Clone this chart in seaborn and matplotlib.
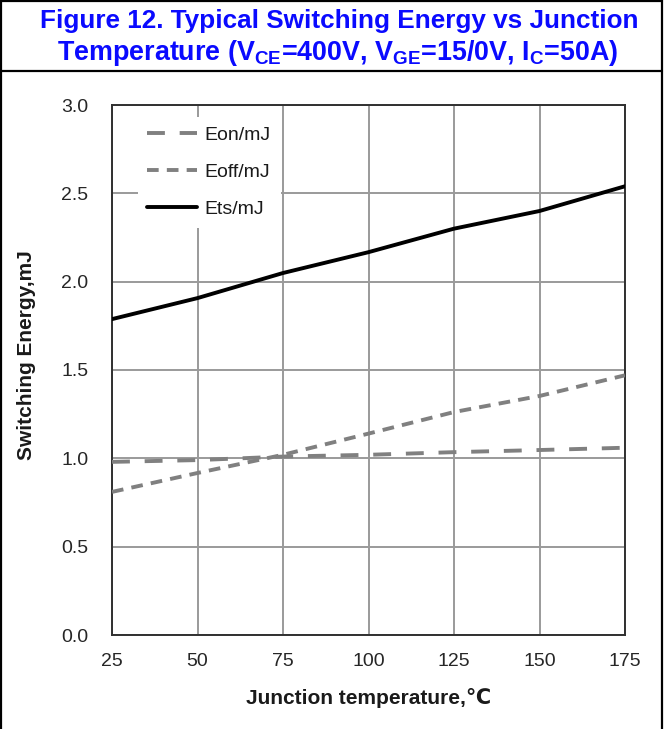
import matplotlib
matplotlib.use("Agg")
import matplotlib.pyplot as plt
from matplotlib.lines import Line2D
import seaborn as sns
import pandas as pd

# Junction temperature (°C) and switching energies (mJ)
temps = [25, 50, 75, 100, 125, 150, 175]
eon = [0.98, 0.99, 1.01, 1.02, 1.035, 1.047, 1.06]
eoff = [0.81, 0.917, 1.02, 1.14, 1.262, 1.353, 1.47]
ets = [1.788, 1.907, 2.049, 2.167, 2.30, 2.40, 2.54]

series_names = ["Eon/mJ", "Eoff/mJ", "Ets/mJ"]
x_ticks = [25, 50, 75, 100, 125, 150, 175]
y_ticks = [0.0, 0.5, 1.0, 1.5, 2.0, 2.5, 3.0]

sns.set_theme(style="white")
plt.rcParams["font.family"] = ["Liberation Sans", "DejaVu Sans"]
plt.rcParams["mathtext.fontset"] = "custom"
plt.rcParams["mathtext.bf"] = "Liberation Sans:bold"
plt.rcParams["mathtext.rm"] = "Liberation Sans:bold"

W, H, DPI = 668, 729, 100
fig = plt.figure(figsize=(W / DPI, H / DPI), dpi=DPI)
fig.patch.set_facecolor("white")

# plot area in pixel coordinates
L, R, T, B = 112, 625, 105, 635
ax = fig.add_axes([L / W, 1 - B / H, (R - L) / W, (B - T) / H])

df = pd.DataFrame({"T": temps, "Eon": eon, "Eoff": eoff, "Ets": ets})

lw = 2.8
sns.lineplot(data=df, x="T", y="Eon", ax=ax, color="#808080", lw=lw,
             linestyle=(0, (4.6, 3.8)), label=series_names[0], zorder=3)
sns.lineplot(data=df, x="T", y="Eoff", ax=ax, color="#808080", lw=lw,
             linestyle=(0, (3.0, 2.1)), label=series_names[1], zorder=3)
sns.lineplot(data=df, x="T", y="Ets", ax=ax, color="black", lw=lw,
             label=series_names[2], zorder=4)

ax.set_xlim(25, 175)
ax.set_ylim(0, 3.0)
ax.set_xticks(x_ticks)
ax.set_yticks(y_ticks)
ax.set_xticklabels([str(v) for v in x_ticks])
ax.set_yticklabels([f"{v:.1f}" for v in y_ticks])

ax.grid(True, color="#9a9a9a", lw=1.4, zorder=0)
ax.set_axisbelow(True)
for side, sp in ax.spines.items():
    sp.set_visible(True)
    sp.set_color("#303030")
    sp.set_linewidth(1.4)

ax.tick_params(axis="both", direction="in", length=5, width=1.0,
               color="#303030", labelsize=14, labelcolor="#262626")
ax.tick_params(axis="x", pad=13)
ax.tick_params(axis="y", pad=17)

ax.set_xlabel("Junction temperature,\u2103", fontsize=15, fontweight="bold",
              color="#1a1a1a", labelpad=13)
ax.set_ylabel("Switching Energy,mJ", fontsize=15, fontweight="bold",
              color="#1a1a1a")
ax.yaxis.set_label_coords(-0.149, 0.528)

leg = ax.legend(loc="upper left", bbox_to_anchor=(0.05, 0.978),
                borderaxespad=0, frameon=True, fancybox=False,
                facecolor="white", edgecolor="none", framealpha=1,
                fontsize=14, handlelength=2.55, handletextpad=0.4,
                labelspacing=1.0, borderpad=0.5)
for t in leg.get_texts():
    t.set_color("#1a1a1a")
leg.set_zorder(5)

# title, drawn in two lines inside its own box
blue = "#0a0aff"
fig.text(0.508, 1 - 21 / H, "Figure 12. Typical Switching Energy vs Junction",
         ha="center", va="center", fontsize=18.8, fontweight="bold", color=blue)
fig.text(0.505, 1 - 53 / H,
         r"Temperature (V$_{\mathbf{CE}}$=400V, V$_{\mathbf{GE}}$=15/0V, I$_{\mathbf{C}}$=50A)",
         ha="center", va="center", fontsize=19.4, fontweight="bold", color=blue)

# frame around the title block and the chart
def hline(y, x0, x1):
    fig.add_artist(Line2D([x0 / W, x1 / W], [1 - y / H, 1 - y / H],
                          color="black", lw=1.6, transform=fig.transFigure))

def vline(x, y0, y1):
    fig.add_artist(Line2D([x / W, x / W], [1 - y0 / H, 1 - y1 / H],
                          color="black", lw=1.6, transform=fig.transFigure))

hline(1, 0, 662)
hline(71, 0, 662)
vline(1, 0, H)
vline(662, 0, H)

fig.savefig("out.png", dpi=DPI)
